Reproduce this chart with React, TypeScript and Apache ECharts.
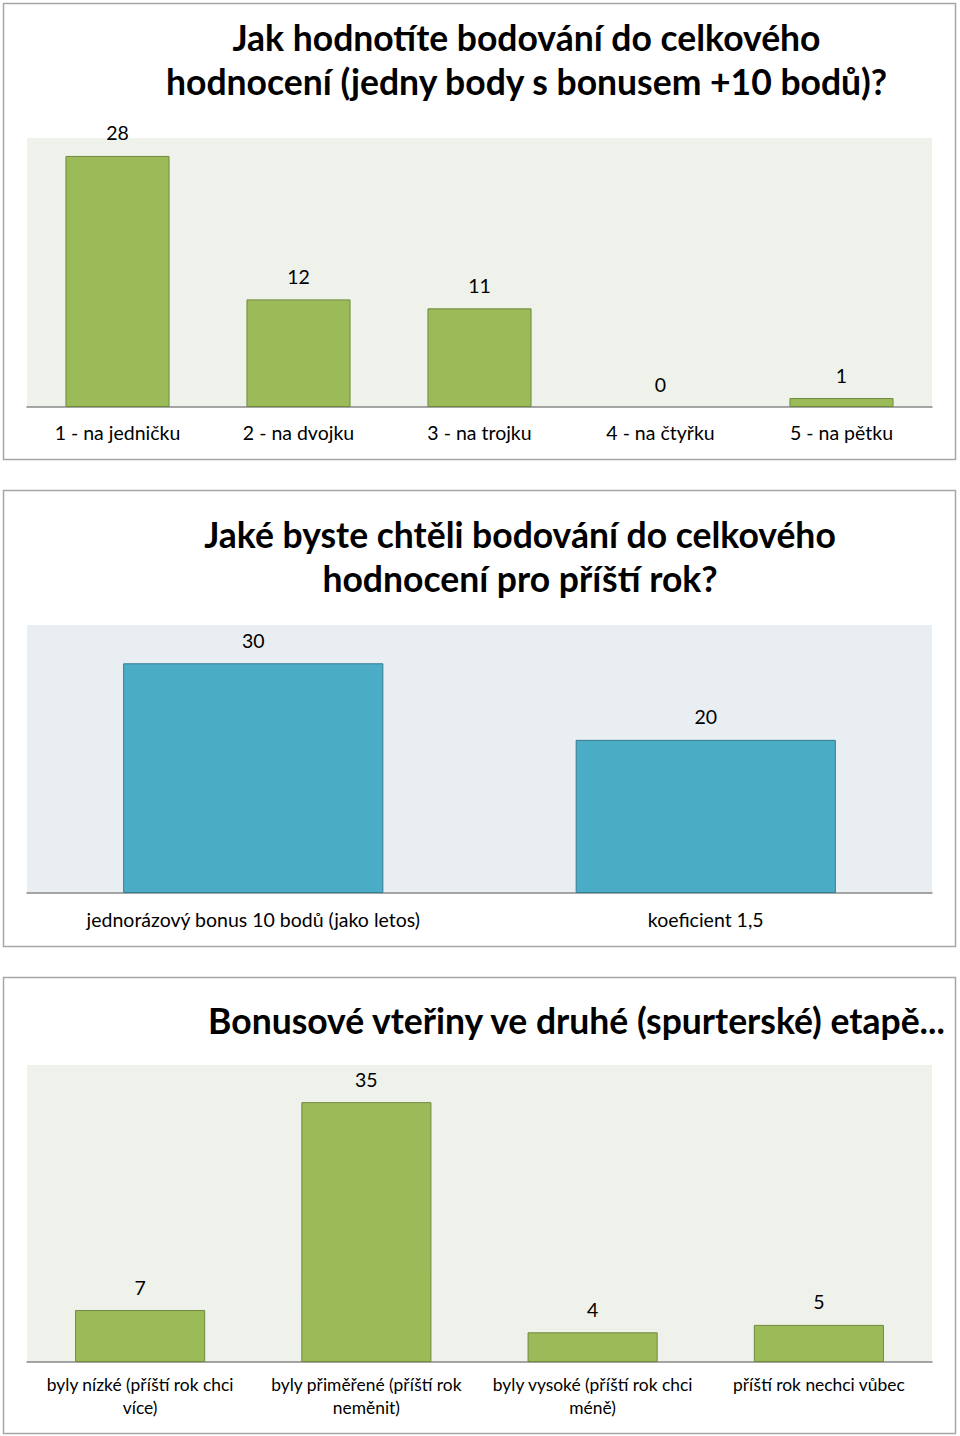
import React, { useEffect, useRef } from "react";
import * as echarts from "echarts";

const cats1 = ["1 - na jedničku", "2 - na dvojku", "3 - na trojku", "4 - na čtyřku", "5 - na pětku"];
const vals1 = [28, 12, 11, 0, 1];
const cats2 = ["jednorázový bonus 10 bodů (jako letos)", "koeficient 1,5"];
const vals2 = [30, 20];
const cats3 = [
  "byly nízké (příští rok chci více)",
  "byly přiměřené (příští rok neměnit)",
  "byly vysoké (příští rok chci méně)",
  "příští rok nechci vůbec",
];
const vals3 = [7, 35, 4, 5];

const title1 = "Jak hodnotíte bodování do celkového\nhodnocení (jedny body s bonusem +10 bodů)?";
const title2 = "Jaké byste chtěli bodování do celkového\nhodnocení pro příští rok?";
const title3 = "Bonusové vteřiny ve druhé (spurterské) etapě...";

const FONT = "Lato, 'Open Sans', sans-serif";
const LABEL_SIZE = 19.5;
const LABEL_SIZE_3 = 17.4;
const GREEN = "#9bbb59";
const GREEN_B = "#71893f";
const BLUE = "#4bacc6";
const BLUE_B = "#357d91";

function makeWrapper(maxWidth: number, size: number) {
  const canvas = document.createElement("canvas");
  const ctx = canvas.getContext("2d")!;
  ctx.font = `${size}px Lato`;
  return (text: string) => {
    const words = text.split(" ");
    const lines: string[] = [];
    let cur = "";
    for (const w of words) {
      const trial = cur ? cur + " " + w : w;
      if (cur && ctx.measureText(trial).width > maxWidth) {
        lines.push(cur);
        cur = w;
      } else {
        cur = trial;
      }
    }
    if (cur) lines.push(cur);
    return lines.join("\n");
  };
}

export default function App() {
  const ref = useRef<HTMLDivElement>(null);
  useEffect(() => {
    if (!ref.current) return;
    const chart = echarts.init(ref.current, undefined, { renderer: "svg" });
    const wrap = makeWrapper(212, LABEL_SIZE_3);
    const grids = [
      { left: 27, top: 138, width: 905, height: 269, bg: "#eff2ea" },
      { left: 27, top: 625, width: 905, height: 268, bg: "#e9eef3" },
      { left: 27, top: 1065, width: 905, height: 297, bg: "#eff2ea" },
    ];
    const cats = [cats1, cats2, cats3];
    const vals = [vals1, vals2, vals3];
    const maxes = [30, 35, 40];
    const margins = [14, 15, 11];
    const colors = [
      [GREEN, GREEN_B],
      [BLUE, BLUE_B],
      [GREEN, GREEN_B],
    ];
    const titleStyle = {
      fontFamily: FONT,
      fontWeight: "bold" as const,
      fontSize: 35.5,
      color: "#000",
      lineHeight: 44,
    };
    chart.setOption({
      animation: false,
      backgroundColor: "#fff",
      title: [
        { text: title1, left: 521.5, top: 10, textAlign: "center", textStyle: titleStyle },
        { text: title2, left: 515, top: 507, textAlign: "center", textStyle: titleStyle },
        { text: title3, left: 571.5, top: 993, textAlign: "center", textStyle: titleStyle },
      ],
      graphic: [
        { type: "rect", z: -10, shape: { x: 3.5, y: 3.5, width: 952, height: 456 }, style: { fill: "#fff", stroke: "#a6a6a6", lineWidth: 1.5 } },
        { type: "rect", z: -10, shape: { x: 3.5, y: 490.5, width: 952, height: 456 }, style: { fill: "#fff", stroke: "#a6a6a6", lineWidth: 1.5 } },
        { type: "rect", z: -10, shape: { x: 3.5, y: 977.5, width: 952, height: 456 }, style: { fill: "#fff", stroke: "#a6a6a6", lineWidth: 1.5 } },
      ],
      grid: grids.map((g) => ({
        left: g.left,
        top: g.top,
        width: g.width,
        height: g.height,
        show: true,
        backgroundColor: g.bg,
        borderWidth: 0,
        containLabel: false,
        outerBoundsMode: "none",
      })),
      xAxis: cats.map((c, i) => ({
        type: "category",
        gridIndex: i,
        data: c,
        axisLine: { show: true, lineStyle: { color: "#898989", width: 1.5 } },
        axisTick: { show: false },
        axisLabel: {
          interval: 0,
          color: "#000",
          fontFamily: FONT,
          fontSize: i === 2 ? LABEL_SIZE_3 : LABEL_SIZE,
          margin: margins[i],
          lineHeight: 23,
          overflow: "none",
          ...(i === 2 ? { formatter: (v: string) => wrap(v) } : {}),
        },
      })),
      yAxis: maxes.map((m, i) => ({
        type: "value",
        gridIndex: i,
        min: 0,
        max: m,
        show: false,
        splitLine: { show: false },
      })),
      series: vals.map((v, i) => ({
        type: "bar",
        xAxisIndex: i,
        yAxisIndex: i,
        data: v.map((x) => (x === 0 ? { value: x, itemStyle: { borderWidth: 0 } } : x)),
        barCategoryGap: "42.5%",
        itemStyle: { color: colors[i][0], borderColor: colors[i][1], borderWidth: 1 },
        label: {
          show: true,
          position: "top",
          distance: 13,
          lineHeight: 20,
          color: "#000",
          fontFamily: FONT,
          fontSize: LABEL_SIZE,
        },
      })),
    });
    return () => chart.dispose();
  }, []);
  return (
    <div
      ref={ref}
      style={{ position: "absolute", left: 0, top: 0, width: 960, height: 1436 }}
    />
  );
}
